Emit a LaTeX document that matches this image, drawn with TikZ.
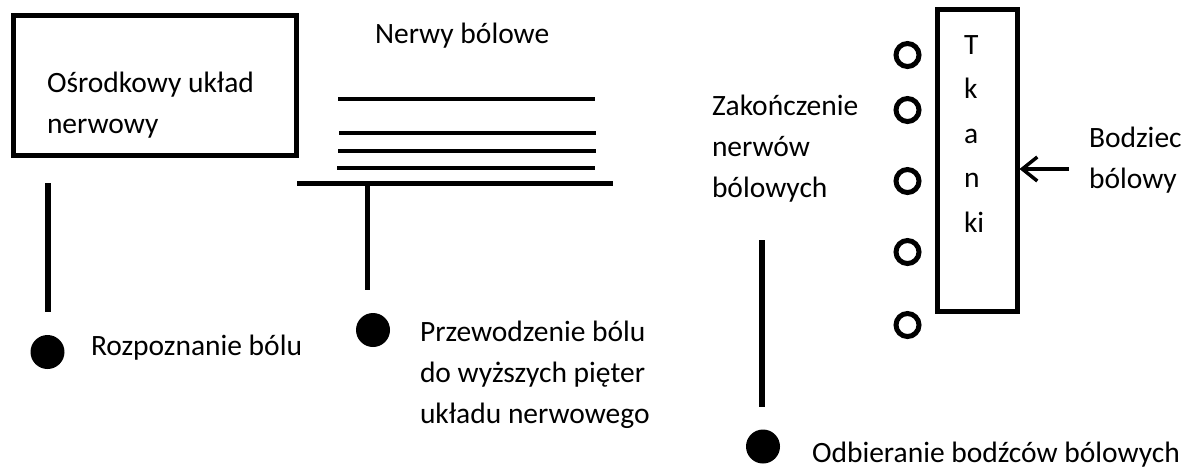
\documentclass[tikz,border=0pt]{standalone}
\usepackage{fontspec}
\setmainfont{Carlito}
\usetikzlibrary{arrows.meta}
\begin{document}
\begin{tikzpicture}[x=1pt,y=-1pt,
  lbl/.style={inner sep=0pt, outer sep=0pt, align=left, font=\fontsize{29.5}{41}\selectfont, anchor=base west},
  boxframe/.style={draw, line width=5pt, inner sep=0pt},
  nerve/.style={line width=4.2pt},
  stem/.style={line width=5.5pt},
  ending/.style={circle, draw, line width=5pt, minimum size=23pt, inner sep=0pt},
  dotmark/.style={circle, fill, minimum size=34pt, inner sep=0pt},
]
\useasboundingbox (0,0) rectangle (1189,475);
% boxes
\node[boxframe, minimum width=283pt, minimum height=140pt] (cns) at (154.5,85) {};
\node[boxframe, minimum width=80pt, minimum height=302pt] (tk) at (977,160) {};
% texts (anchor: baseline of the last line)
\node[lbl] (cnsT) at (47,133) {Ośrodkowy układ\\nerwowy};
\node[lbl] (nerT) at (375,43) {Nerwy bólowe};
\node[lbl] (rozT) at (91,355) {Rozpoznanie bólu};
\node[lbl] (przT) at (420,423) {Przewodzenie bólu\\do wyższych pięter\\układu nerwowego};
\node[lbl] (zakT) at (712,197) {Zakończenie\\nerwów\\bólowych};
\node[lbl] (bodT) at (1089,188) {Bodziec\\bólowy};
\node[lbl] (odbT) at (812,462) {Odbieranie bodźców bólowych};
\node[lbl, font=\fontsize{29.5}{44.5}\selectfont] (tkT) at (964,232) {T\\k\\a\\n\\ki};
% nerves
\coordinate (n1a) at (338,99);   \coordinate (n1b) at (595,99);
\coordinate (n2a) at (339,133.3); \coordinate (n2b) at (596,133.3);
\coordinate (n3a) at (338,150.7); \coordinate (n3b) at (596,150.7);
\coordinate (n4a) at (337,168.3); \coordinate (n4b) at (595,168.3);
\draw[nerve] (n1a) -- (n1b);
\draw[nerve] (n2a) -- (n2b);
\draw[nerve] (n3a) -- (n3b);
\draw[nerve] (n4a) -- (n4b);
\coordinate (barL) at (297,183.5); \coordinate (barR) at (613,183.5);
\draw[line width=5pt] (barL) -- (barR);
% dots
\node[dotmark] (d1) at (47.5,352) {};
\node[dotmark] (d2) at (373,330) {};
\node[dotmark] (d3) at (763,446.5) {};
% stems
\coordinate (s1a) at (48,183); \coordinate (s1b) at (48,312);
\draw[stem] (s1a) -- (s1b);
\coordinate (s2a) at (367.5,183.5); \coordinate (s2b) at (367.5,290);
\draw[stem] (s2a) -- (s2b);
\coordinate (s3a) at (762,240); \coordinate (s3b) at (762,407);
\draw[stem] (s3a) -- (s3b);
% nerve endings
\node[ending] (e1) at (907.5,55) {};
\node[ending] (e2) at (907.5,110) {};
\node[ending] (e3) at (907.5,181) {};
\node[ending] (e4) at (907.5,252) {};
\node[ending] (e5) at (907.5,325) {};
% stimulus arrow
\coordinate (stim) at (1069,169);
\draw[line width=3.5pt, -{Straight Barb[length=15pt,width=24pt]}] (stim) -- (tk.east |- stim);
\end{tikzpicture}
\end{document}
